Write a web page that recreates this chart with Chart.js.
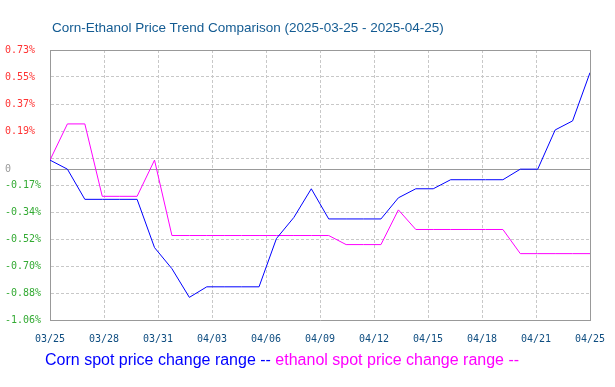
<!DOCTYPE html>
<html>
<head>
<meta charset="utf-8">
<script src="https://cdn.jsdelivr.net/npm/chart.js@4.4.1/dist/chart.umd.min.js"></script>
<style>
  body { margin: 0; background: #fff; }
  #wrap { position: relative; width: 615px; height: 387px; }
  #title { position: absolute; left: 52px; top: 20px; font: 13.5px "Liberation Sans", Arial, sans-serif; color: #135b92; white-space: nowrap; line-height: 16px; }
  #legend { position: absolute; left: 45px; top: 351px; font: 16px "Liberation Sans", Arial, sans-serif; white-space: nowrap; line-height: 18px; }
</style>
</head>
<body>
<div id="wrap">
  <canvas id="trendChart" width="615" height="387"></canvas>
  <div id="title">Corn-Ethanol Price Trend Comparison (2025-03-25 - 2025-04-25)</div>
  <div id="legend"><span style="color:#0000ff">Corn spot price change range --</span> <span style="color:#ff00ff">ethanol spot price change range --</span></div>
</div>
<script>
// daily dates, 03/25 .. 04/25
const dates = ["03/25","03/26","03/27","03/28","03/29","03/30","03/31","04/01","04/02","04/03","04/04",
  "04/05","04/06","04/07","04/08","04/09","04/10","04/11","04/12","04/13","04/14","04/15",
  "04/16","04/17","04/18","04/19","04/20","04/21","04/22","04/23","04/24","04/25"];

// change range, %
const cornChange = [0, -0.06, -0.26, -0.26, -0.26, -0.26, -0.58, -0.72, -0.91, -0.84, -0.84,
  -0.84, -0.84, -0.52, -0.38, -0.19, -0.39, -0.39, -0.39, -0.39, -0.25, -0.19,
  -0.19, -0.13, -0.13, -0.13, -0.13, -0.06, -0.06, 0.20, 0.26, 0.58];
const ethanolChange = [0, 0.24, 0.24, -0.24, -0.24, -0.24, 0, -0.50, -0.50, -0.50, -0.50,
  -0.50, -0.50, -0.50, -0.50, -0.50, -0.50, -0.56, -0.56, -0.56, -0.33, -0.46,
  -0.46, -0.46, -0.46, -0.46, -0.46, -0.62, -0.62, -0.62, -0.62, -0.62];

const xTickLabels = ["03/25","03/28","03/31","04/03","04/06","04/09","04/12","04/15","04/18","04/21","04/25"];
const yTickValues = [-1.06, -0.881, -0.702, -0.523, -0.344, -0.165, -0.063, 0.014, 0.193, 0.372, 0.551, 0.73];
const yTickLabels = ["-1.06%","-0.88%","-0.70%","-0.52%","-0.34%","-0.17%","0","","0.19%","0.37%","0.55%","0.73%"];
const ZERO_LINE = -0.063;

const toPoints = arr => arr.map((v, i) => ({ x: i, y: v }));
const lastX = dates.length - 1;

const ctx = document.getElementById("trendChart").getContext("2d");
new Chart(ctx, {
  type: "line",
  data: {
    datasets: [
      { label: "Corn spot price change range", data: toPoints(cornChange), borderColor: "#0000ff", borderWidth: 1, pointRadius: 0, tension: 0 },
      { label: "ethanol spot price change range", data: toPoints(ethanolChange), borderColor: "#ff00ff", borderWidth: 1, pointRadius: 0, tension: 0 }
    ]
  },
  options: {
    responsive: false,
    animation: false,
    layout: { padding: { left: 5, right: 25, top: 50, bottom: 41 } },
    plugins: { legend: { display: false }, title: { display: false }, tooltip: { enabled: false } },
    scales: {
      x: {
        type: "linear",
        min: 0,
        max: lastX,
        afterBuildTicks: scale => {
          scale.ticks = xTickLabels.map((_, k) => ({ value: lastX * k / (xTickLabels.length - 1) }));
        },
        afterFit: scale => {
          scale.height = 26;
          scale.paddingLeft = 0;
          scale.paddingRight = 0;
        },
        ticks: {
          autoSkip: false,
          maxRotation: 0,
          padding: 13,
          color: "#0e4d80",
          font: { family: "DejaVu Sans Mono", size: 10 },
          callback: (value, index) => xTickLabels[index]
        },
        grid: {
          drawTicks: false,
          color: c => (c.index === xTickLabels.length - 1 ? "#999999" : "#c8c8c8")
        },
        border: {
          color: "#999999",
          dash: c => (c.index === xTickLabels.length - 1 ? [] : [3, 2])
        }
      },
      y: {
        min: -1.06,
        max: 0.73,
        afterBuildTicks: scale => {
          scale.ticks = yTickValues.map(v => ({ value: v }));
        },
        afterFit: scale => {
          scale.width = 45;
          scale.paddingTop = 0;
          scale.paddingBottom = 0;
        },
        ticks: {
          autoSkip: false,
          crossAlign: "far",
          padding: 4,
          font: { family: "DejaVu Sans Mono", size: 10 },
          color: c => {
            const v = c.tick ? c.tick.value : 0;
            if (v === ZERO_LINE) return "#999999";
            return v > 0 ? "#ff3333" : "#33aa33";
          },
          callback: (value, index) => yTickLabels[index]
        },
        grid: {
          drawTicks: false,
          color: c => {
            const v = c.tick ? c.tick.value : 0;
            return (v === ZERO_LINE || v === 0.73) ? "#999999" : "#c8c8c8";
          }
        },
        border: {
          color: "#999999",
          dash: c => {
            const v = c.tick ? c.tick.value : 0;
            return (v === ZERO_LINE || v === 0.73) ? [] : [3, 2];
          }
        }
      }
    }
  }
});
</script>
</body>
</html>
